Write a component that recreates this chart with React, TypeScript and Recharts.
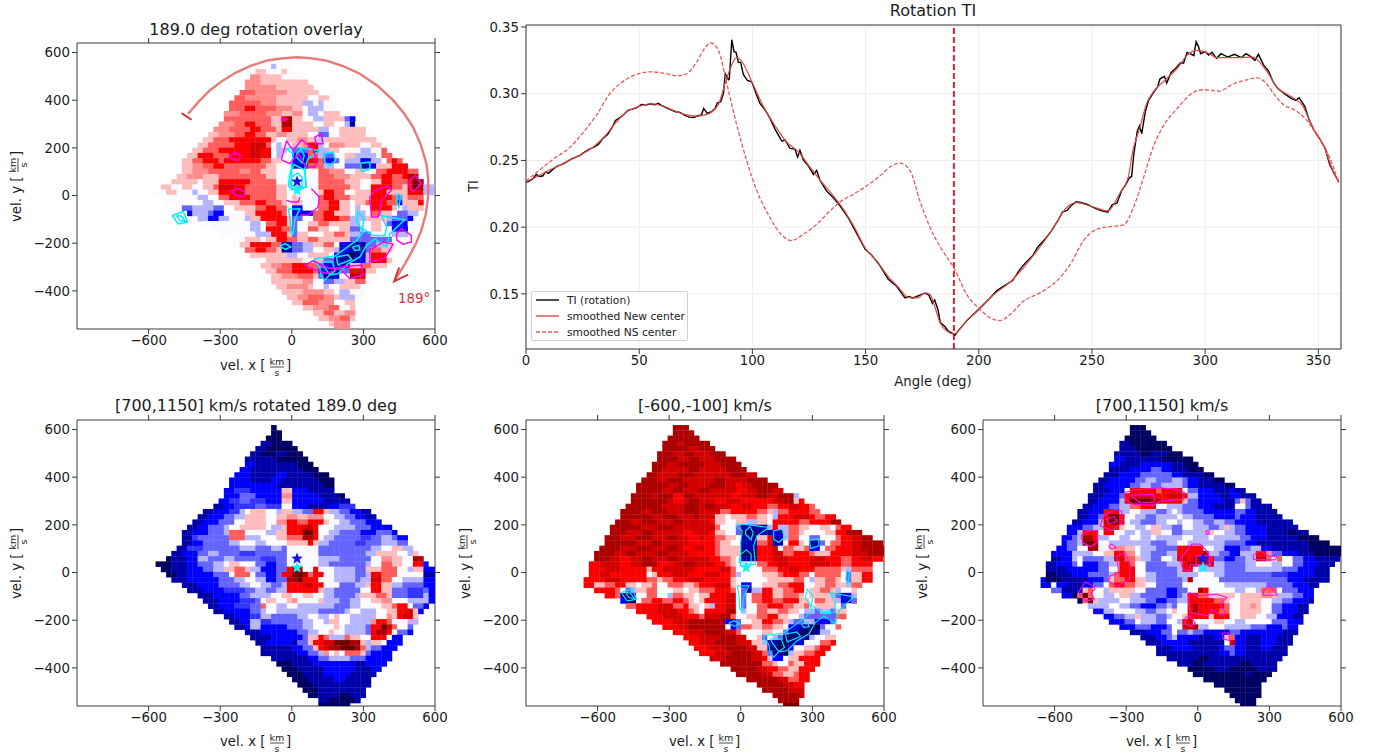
import { ScatterChart, Scatter, LineChart, Line, XAxis, YAxis, CartesianGrid, ReferenceLine, Legend } from "recharts";

const FONT = "'DejaVu Sans', sans-serif";
const INK = "#1c1c1c";
const FRAME = "#3a3a3a";
const TICK_SIZE = 13.3;

// colour levels of the maps, 0 = navy ... 5 = white ... a = maroon; b, c, d are in-between shades
const levelColors: Record<string, string> = {
  "0": "#000062", "1": "#0000aa", "2": "#0000ff", d: "#3434ff", "3": "#6464ff", "4": "#b4b4ff", "5": "#fbfbff",
  "6": "#ffbcbc", c: "#ff8c8c", "7": "#ff5c5c", "8": "#fa0000", b: "#d40000", "9": "#ac0000", a: "#700000",
};

// map rows, top to bottom: "startColumn:level ... endColumn"
const overlayRows = [
  "", "", "", "",
  "35:5 37:4 38:5 41",
  "34:6 36:5 39:6 40:5 42",
  "33:c 35:6 37:6 39:5 43",
  "32:c 35:6 38:6 41:6 44",
  "32:c 35:c 38:6 41:6 43:6 45",
  "31:7 34:c 37:c 40:6 43:6 46",
  "30:7 32:c 35:c 38:6 42:6 44:5 46:6 48",
  "29:7 31:7 35:c 38:6 41:6 43:4 45:5 46:4 47:5 49",
  "29:7 32:8 34:7 38:c 41:6 43:5 44:4 46:4 47:5 49",
  "28:c 31:7 33:7 36:c 39:6 40:6 41:c 43:5 44:4 46:5 47:6 50",
  "28:7 30:7 34:7 37:6 39:8 40:9 41:6 43:5 45:4 47:6 51:3 52:2 53",
  "27:c 30:7 32:8 34:7 37:6 39:9 41:6 43:6 45:5 47:6 49:5 51:4 52:1 53:5 54",
  "26:c 29:7 31:7 33:8 35:7 38:6 39:8 41:6 43:6 46:4 48:5 50:6 52:6 55",
  "25:6 27:c 30:7 32:8 34:7 36:6 38:c 40:6 42:6 44:5 46:3 48:5 50:6 54:6 55:5 56",
  "24:6 26:7 29:8 33:8 35:8 37:6 38:5 40:6 42:c 44:6 46:4 47:6 49:6 53:6 55:6 57",
  "23:6 25:7 28:7 30:8 33:b 36:7 37:5 38:4 39:5 41:6 43:c 44:8 46:4 47:5 48:c 51:6 54:5 56:6 58",
  "22:6 24:7 27:8 31:8 33:b 35:8 37:5 38:4 40:5 41:3 43:3 44:7 45:8 46:4 48:6 50:5 53:5 54:4 56:5 58:7 59",
  "21:6 23:8 26:7 29:8 32:8 33:b 35:8 37:5 38:4 39:5 41:2 43:2 44:7 46:4 47:3 49:5 51:6 53:4 57:5 58:7 60",
  "20:6 22:7 24:8 27:7 28:8 32:8 35:7 37:6 39:5 41:2 43:1 44:8 46:7 47:2 49:3 50:5 51:4 54:2 56:4 58:5 59:7 60:8 61:7 62",
  "20:6 22:c 24:7 26:8 28:7 31:7 34:7 36:6 38:5 40:5 41:1 43:2 44:7 46:7 47:4 49:5 51:3 53:3 54:1 56:2 57:6 60:8 63",
  "20:6 22:c 25:7 28:7 31:c 33:7 35:6 38:5 40:5 45:5 46:7 48:c 51:5 53:6 55:5 56:5 57:7 59:8 62:8 63:7 65",
  "19:6 21:c 24:6 27:7 30:7 33:7 36:6 38:5 46:7 49:c 52:6 54:6 56:7 58:8 60:7 62:8 63:9 65",
  "18:6 20:6 23:5 24:6 26:6 27:8 29:8 31:8 33:7 36:7 38:5 40:5 46:7 49:7 51:6 54:5 56:6 58:8 60:7 63:8 64:a 65:9 66",
  "16:6 18:5 20:6 22:5 24:6 26:7 27:b 30:8 32:7 35:7 38:6 40:5 46:7 49:7 52:6 54:5 56:8 60:7 62:6 63:8 64:a 65:9 66:4 68",
  "15:5 17:6 19:5 22:4 23:5 25:6 27:8 30:b 32:7 35:7 38:6 40:5 46:6 47:8 49:7 51:5 53:6 56:8 59:6 61:6 63:8 66:4 68",
  "16:5 18:5 20:5 22:5 23:4 25:5 27:7 29:8 32:8 33:7 36:7 38:6 40:5 41:6 42:5 46:7 47:8 49:7 52:6 54:6 56:8 59:8 60:7 61:3 62:6 63:7 66",
  "17:5 19:5 21:5 23:5 24:4 26:5 28:6 31:7 34:8 36:7 39:6 40:5 41:6 43:5 45:5 46:7 48:8 50:6 52:5 53:6 55:7 56:8 59:7 61:2 62:6 65:8 66",
  "20:3 22:4 24:4 26:3 28:5 30:6 32:6 34:7 36:8 38:7 40:5 41:2 43:5 44:5 46:7 48:8 50:6 52:5 53:4 54:5 56:8 58:8 60:6 61:5 62:4 63:6 66",
  "21:2 22:4 25:3 26:2 28:5 30:5 32:6 34:8 37:8 39:7 40:5 41:2 43:2 45:7 47:8 49:6 52:5 53:4 55:5 56:7 58:6 60:5 61:3 63:4 65",
  "23:4 25:2 27:4 29:5 31:5 32:4 33:6 35:8 38:8 40:6 41:3 43:5 45:7 47:8 50:7 52:4 53:4 55:6 57:6 59:4 60:3 63:2 64",
  "24:5 27:5 29:5 31:5 33:4 35:5 36:7 38:8 40:6 41:3 42:5 44:6 46:7 48:6 50:6 52:4 54:5 56:6 58:5 59:3 60:2 63:5 65",
  "26:5 29:5 31:5 33:4 35:5 36:8 39:7 41:3 42:5 44:7 46:6 48:5 50:6 52:3 54:5 56:6 58:5 60:2 63",
  "27:5 30:5 32:5 34:4 36:4 37:8 40:6 41:3 42:6 44:5 47:6 49:7 51:6 52:4 54:3 56:5 58:5 60:4 63",
  "30:5 32:6 35:5 36:6 38:8 40:7 42:6 44:7 46:6 48:6 50:6 52:3 55:3 58:3 60:5 61",
  "31:6 33:8 35:8 37:7 39:1 41:3 43:4 45:6 47:7 49:5 50:2 52:1 55:3 57:4 59:6 60",
  "32:7 34:8 36:7 38:6 39:1 41:3 43:4 45:5 47:6 49:4 50:2 52:1 55:3 56:7 58:6 60",
  "33:6 35:6 38:6 40:4 42:5 44:6 46:6 48:5 49:2 51:0 53:1 55:4 56:8 59:5 60",
  "34:5 36:6 38:6 40:6 43:5 45:6 47:3 49:1 51:1 53:2 55:4 56:8 59:6 60",
  "35:6 37:c 39:7 41:8 44:7 46:3 47:2 49:1 51:2 52:6 54:7 56:6 58:6 59",
  "36:6 38:7 41:8 43:8 45:7 46:2 48:1 50:3 52:8 54:9 55:6 57:5 59",
  "37:6 39:c 42:7 45:6 46:3 47:1 49:2 50:5 52:9 54:8 55:5 58",
  "37:6 40:6 43:c 45:5 47:3 49:4 51:6 53:7 55:5 57",
  "38:6 40:c 42:c 44:6 45:5 47:4 48:5 50:6 52:6 54:5 56",
  "39:6 41:6 43:c 45:c 47:6 49:5 50:4 52:5 55",
  "40:6 42:c 44:7 47:c 49:6 50:4 52:4 53:5 55",
  "41:6 43:7 46:c 49:5 51:6 53:5 54",
  "43:6 45:c 48:7 50:5 52:6 53",
  "45:6 47:7 49:6 51:c 53",
  "46:6 48:c 50:7 52:6 53",
  "48:6 49:c 52",
  "49:c 52",
];

const rotatedRows = [
  "",
  "37:0 38",
  "37:0 39",
  "36:0 39",
  "35:1 37:0 41",
  "34:1 36:0 42",
  "33:1 35:0 38:1 40:0 43",
  "32:1 35:1 38:0 44",
  "32:2 34:1 38:1 42:0 45",
  "31:2 33:1 40:1 43:0 46",
  "30:2 33:1 38:2 40:1 45:0 48",
  "29:2 33:1 37:2 39:1 44:1 46:0 49",
  "29:2 36:2 38:1 43:1 47:0 49",
  "28:2 30:d 33:2 39:6 41:2 44:1 49",
  "28:2 31:3 34:2 39:c 41:2 46:1 50:0 51",
  "27:2 29:d 31:3 33:d 36:2 39:6 41:2 47:1 52",
  "26:1 28:2 30:d 34:3 36:d 39:5 41:2 44:1 48:2 50:d 53",
  "24:1 26:2 29:d 31:4 32:5 33:6 36:5 38:4 39:6 41:4 43:3 45:8 47:6 48:4 50:3 52:2 54:1 56",
  "23:1 25:2 28:3 30:4 32:6 36:5 38:6 40:c 42:6 44:c 47:5 49:4 51:3 53:2 55:1 57",
  "22:1 24:2 27:3 30:5 32:6 36:5 38:c 40:8 42:7 44:8 45:8 47:6 48:5 50:4 52:3 55:2 58",
  "21:1 23:2 25:3 28:4 29:5 31:6 36:5 37:4 39:6 40:8 43:b 45:8 46:5 49:4 51:4 53:3 56:2 60",
  "20:1 22:2 25:3 28:4 29:7 32:5 34:5 36:4 38:6 40:8 42:8 43:a 45:8 46:5 48:4 50:3 54:2 57:3 60:2 61",
  "20:1 22:d 23:3 26:3 29:7 31:7 32:4 35:5 37:5 38:6 40:7 43:9 45:8 46:5 47:4 49:3 54:d 56:3 58:4 60:3 61:2 63",
  "20:1 22:2 24:3 29:4 31:5 34:4 36:5 38:5 40:6 44:8 45:6 46:4 48:3 53:d 55:3 58:4 61:3 63",
  "19:1 21:d 24:3 28:3 31:4 34:3 37:4 39:3 40:5 46:3 50:3 54:3 56:4 58:5 60:6 62:4 64",
  "18:1 20:2 23:3 25:4 27:3 31:d 34:3 37:3 40:5 46:3 52:3 55:4 57:6 59:6 61:5 63:4 64:6 65",
  "17:0 18:1 21:2 23:4 25:3 28:4 30:3 35:d 38:3 40:5 46:4 50:3 54:3 56:5 58:c 60:6 62:5 64:9 66",
  "15:0 18:1 21:2 23:3 26:4 28:5 29:6 31:5 34:3 36:2 38:3 40:5 46:4 48:3 52:3 55:4 56:5 58:7 60:6 62:5 64:8 66:2 67:5 68",
  "16:0 18:1 21:2 24:3 26:4 28:6 30:7 32:6 33:4 35:2 38:3 40:8 41:9 43:5 45:8 46:5 49:4 53:3 55:6 56:6 58:7 61:5 63:4 64:6 66:2 69",
  "17:0 19:1 21:2 26:3 29:5 30:7 32:7 33:5 34:3 36:2 38:3 39:8 41:a 43:9 44:7 45:8 47:5 49:4 53:3 55:4 56:8 58:7 61:5 64:5 66:1 69",
  "18:1 21:2 27:3 30:4 32:5 34:4 36:2 38:3 40:9 42:a 43:8 46:5 49:4 53:3 54:4 56:b 58:7 60:5 62:4 65:4 66:2 69",
  "20:1 23:2 27:3 31:4 33:5 35:4 37:3 39:4 40:8 43:b 45:8 47:5 50:3 53:4 55:6 56:8 58:6 60:4 62:3 66:2 69",
  "21:1 24:2 28:d 32:3 34:4 36:3 38:4 40:8 44:8 46:6 47:4 49:3 52:3 54:5 56:8 58:6 60:3 63:d 66:3 67:2 69",
  "23:1 26:2 31:3 33:4 35:4 37:5 39:6 41:5 43:6 45:5 47:4 49:3 53:4 54:6 57:7 59:6 60:3 63:d 66:4 67:2 69",
  "24:1 27:2 31:d 34:3 35:5 36:6 38:5 40:6 41:c 42:5 44:5 46:6 47:4 50:3 52:4 54:5 56:6 58:c 60:5 63:4 66:4 67:2 69",
  "25:1 27:2 30:d 33:3 35:7 36:5 38:4 40:5 42:4 44:4 47:4 49:3 52:4 54:5 56:5 58:6 60:7 61:8 63:5 64:3 66:2 67",
  "26:1 28:2 33:3 35:4 36:5 38:4 44:4 46:3 49:3 51:4 52:5 54:4 57:5 59:6 61:8 63:b 64:6 65:2 66",
  "28:1 30:2 33:d 35:4 37:3 40:3 42:4 44:5 46:4 48:5 49:6 50:5 52:4 55:4 57:5 59:c 60:6 61:8 62:b 64:6 65",
  "29:1 31:2 33:4 35:d 37:3 40:3 43:4 45:5 47:4 48:6 50:5 52:4 54:4 56:c 57:8 59:7 60:5 61:5 63:4 65",
  "30:1 32:2 33:4 35:2 37:2 40:3 43:4 45:5 48:5 49:6 50:5 51:4 55:3 56:8 58:a 59:b 60:7 61:5 63:3 64",
  "32:1 35:2 40:2 42:3 44:4 46:5 48:6 49:5 51:4 55:3 56:8 57:9 59:8 60:5 61:3 63:2 64",
  "33:1 37:2 41:2 43:3 44:6 46:8 47:7 48:4 50:4 51:7 52:6 54:5 56:8 58:8 59:5 60:2 62",
  "34:1 36:2 41:1 42:3 44:6 45:8 47:b 49:a 52:9 54:6 55:4 56:6 58:5 59:2 62",
  "35:1 40:1 41:2 43:3 45:6 46:8 47:b 48:9 50:a 52:a 53:9 54:7 55:4 56:3 58:2 61",
  "35:1 40:1 42:2 44:3 46:4 47:c 48:5 49:6 50:5 51:7 54:6 55:3 56:2 60",
  "37:1 42:1 44:2 46:3 48:4 50:4 52:3 55:2 57:2 60",
  "38:0 41:1 45:2 48:2 50:2 53:1 55:2 57:2 59",
  "39:0 42:1 47:2 50:2 53:1 56:2 58",
  "40:0 43:1 47:2 49:2 52:1 57",
  "41:0 44:1 49:2 51:1 56",
  "42:0 45:1 56",
  "43:0 46:1 55",
  "44:0 46:1 50:0 52:1 55",
  "46:1 48:0 53:1 54",
  "46:0 52",
];

const lowVelocityRows = [
  "",
  "28:9 31",
  "28:9 32",
  "27:9 33",
  "26:9 29:b 30:9 35",
  "26:9 31:b 33:9 36",
  "25:9 28:b 30:9 32:b 35:9 38",
  "25:9 29:b 31:9 33:b 36:9 40",
  "24:9 27:b 29:9 34:b 37:9 41",
  "24:9 26:b 29:b 31:9 33:b 35:b 38:9 42",
  "23:9 25:b 27:b 29:9 32:b 36:b 39:9 42:b 44",
  "22:9 25:b 27:9 30:b 33:b 36:9 38:b 42:9 46",
  "21:9 24:9 27:b 29:9 31:b 35:9 38:b 40:8 41:b 43:9 48",
  "21:9 26:b 28:9 30:b 33:9 35:b 38:b 40:8 42:b 44:9 47:b 49",
  "20:9 24:b 25:9 28:8 29:8 30:9 32:b 35:b 39:8 41:b 44:9 46:b 48:9 51:4 52",
  "20:9 23:9 27:b 28:8 30:b 31:9 33:b 36:8 38:b 41:8 43:8 47:b 49:9 51:6 52:8 53",
  "19:9 22:9 26:b 30:9 33:b 34:9 36:b 39:8 41:b 43:8 46:7 48:8 50:b 52:8 54:7 55",
  "18:9 22:b 24:9 27:b 30:9 33:b 35:b 37:7 39:8 42:8 44:7 46:6 47:4 48:7 50:8 54:7 56",
  "18:9 21:9 24:b 26:9 29:b 32:9 33:b 36:6 38:5 39:6 42:7 44:6 46:5 47:4 48:8 51:b 54:8 55:7 57:8 59",
  "17:9 20:b 22:9 25:b 28:9 30:b 33:b 35:8 36:6 38:5 40:6 42:4 44:6 46:5 47:8 50:8 52:7 54:8 56:8 58:9 60",
  "16:9 19:9 22:b 25:9 28:b 30:b 33:b 36:7 37:5 39:5 40:3 41:1 46:4 47:8 48:4 50:7 52:6 54:5 56:6 58:5 59:7 60:8 62",
  "16:9 19:b 22:9 24:b 28:b 30:8 32:b 35:8 36:6 38:5 40:3 41:0 44:1 46:1 47:2 48:1 49:4 50:7 52:6 53:5 57:6 59:8 61:9 64",
  "15:9 18:b 21:9 24:b 27:9 29:b 31:8 33:b 34:8 36:7 38:6 40:5 41:1 44:6 46:8 47:1 49:4 50:7 52:5 54:3 56:5 59:7 60:8 62:b 64:9 66",
  "15:9 18:9 21:b 24:9 26:b 29:b 31:8 34:8 36:7 37:6 39:5 41:1 44:7 46:8 47:1 49:5 50:8 52:6 53:5 54:1 56:3 57:5 58:7 60:8 62:b 64:9 68",
  "14:9 18:b 21:9 24:b 27:9 29:b 30:8 32:b 34:8 36:7 37:6 39:6 41:1 44:8 47:b 48:5 49:7 51:6 53:7 54:2 56:5 57:7 59:8 62:b 64:9 69",
  "13:9 17:b 19:9 21:b 25:9 27:b 29:b 31:8 33:8 36:7 37:6 39:6 41:0 44:8 47:b 49:7 51:8 54:7 55:6 58:8 62:b 65:9 69",
  "13:9 16:b 18:8 20:b 22:9 24:b 27:9 29:b 33:b 35:8 37:7 39:6 40:5 41:1 43:1 44:8 47:b 50:8 54:b 57:8 60:7 62:8 64:b 66:8 68",
  "12:8 14:b 18:8 20:b 22:9 25:8 28:b 30:9 32:b 34:b 36:8 38:7 39:6 40:5 44:7 46:8 48:b 50:8 54:b 58:8 60:7 62:8 66",
  "12:8 15:b 18:8 20:8 23:6 24:8 26:b 30:b 32:8 34:8 37:b 39:7 40:5 45:7 47:7 48:8 50:b 52:8 55:7 58:7 60:6 61:4 62:7 66",
  "12:8 14:b 16:8 19:8 23:5 24:6 25:8 28:b 31:8 34:b 37:8 39:7 40:4 41:5 45:6 48:7 49:8 52:7 54:5 55:7 58:7 60:5 61:3 62:6 64:8 66",
  "11:8 12:8 15:b 18:8 21:8 23:7 25:6 26:7 28:8 31:b 34:8 36:8 39:6 40:5 46:6 49:6 51:7 53:5 54:4 55:6 57:7 59:6 60:5 61:3 62:6 64:8 66",
  "11:8 13:6 15:7 17:8 19:6 21:5 22:6 24:7 25:5 27:7 28:7 30:6 32:7 33:8 36:b 39:6 40:5 41:2 43:5 45:6 48:7 50:8 53:5 54:5 55:6 57:7 59:6 60:6 61:4 62:7 64",
  "13:8 15:8 17:7 18:5 19:3 20:4 21:6 23:7 25:5 27:5 28:6 30:5 31:6 33:7 36:8 39:7 40:5 41:3 42:1 43:4 45:8 47:6 49:7 51:8 53:5 54:6 56:7 58:6 59:4 60:5 62:6 63",
  "15:8 17:7 18:1 19:0 20:2 21:5 23:7 25:5 27:4 28:7 30:6 32:5 33:6 35:8 38:b 40:5 41:3 42:5 43:7 45:8 47:6 49:7 52:6 53:5 54:6 56:6 58:4 59:3 60:2 62:4 63",
  "18:2 19:0 21:5 22:7 24:8 26:7 28:8 30:7 31:6 32:5 33:6 34:8 38:b 40:5 41:3 42:5 43:7 45:8 47:7 49:8 52:6 54:5 55:7 57:6 59:4 60:2 61:1 62:3 63",
  "19:7 21:8 25:b 28:7 30:8 31:6 33:5 34:6 35:4 36:8 38:b 40:5 41:3 42:5 44:7 46:8 49:7 51:6 53:7 54:5 55:6 57:6 59:5 60:3 61:5 62",
  "21:8 25:b 29:8 31:7 32:6 33:5 34:8 38:9 40:5 41:4 42:5 44:7 46:6 48:7 50:6 52:5 53:4 55:3 56:4 58:3 59:6 61",
  "23:8 26:b 30:8 33:7 34:b 37:9 39:7 40:5 42:6 44:7 46:8 48:6 50:5 52:4 53:3 55:3 58:3 59:7 61",
  "24:8 28:b 31:9 35:9 38:2 40:3 41:5 43:6 45:8 47:7 49:6 50:4 51:3 53:4 55:2 58:3 59:5 60",
  "26:8 29:b 31:9 36:9 38:5 39:2 40:3 41:7 43:6 45:7 47:6 49:5 50:2 52:1 54:0 56:3 57:5 59:7 60",
  "28:8 31:b 34:9 38:b 40:7 41:5 43:5 45:6 47:5 49:3 50:1 52:0 55:1 56:4 58:5 60",
  "30:8 33:b 37:9 40:b 42:5 44:6 45:3 46:5 47:4 48:3 49:0 52:1 54:4 55:5 57:6 59",
  "31:8 33:b 36:9 40:b 43:6 45:4 46:1 48:0 50:1 52:2 53:5 55:5 56:7 58:8 59",
  "32:8 35:b 38:9 42:b 44:6 46:1 47:0 49:0 50:2 51:5 53:6 55:7 56:8 58",
  "33:8 36:b 39:9 43:b 45:7 46:3 47:1 49:0 50:4 51:6 53:7 55:8 57",
  "35:b 38:9 41:9 43:b 45:8 46:6 47:2 49:5 50:6 52:8 55:8 56",
  "37:9 40:9 43:9 45:7 47:6 48:5 50:7 51:6 53:8 56",
  "39:9 42:9 44:b 46:8 48:7 50:6 52:8 55",
  "40:9 43:9 45:b 47:7 49:6 51:7 52:8 54",
  "42:9 44:9 46:9 48:b 50:7 52:8 54",
  "44:9 47:9 49:b 51:8 53",
  "45:9 48:9 50:b 53",
  "47:9 50:9 52:b 53",
  "48:9 52",
  "49:a 52",
];

const highVelocityRows = [
  "",
  "28:0 31",
  "28:0 32",
  "27:0 33",
  "26:1 28:0 35",
  "26:1 29:0 36",
  "25:1 27:1 30:0 32:1 35:0 38",
  "25:2 27:1 31:1 34:0 36:0 40",
  "24:2 26:1 30:2 33:2 36:1 38:0 41",
  "24:1 28:2 30:2 32:3 34:2 36:1 39:0 42",
  "23:1 26:2 30:3 33:3 36:2 38:1 42:0 44",
  "22:1 24:2 27:2 29:3 31:4 33:3 35:3 36:4 38:3 39:2 41:1 44:0 46",
  "21:1 23:2 25:2 28:3 30:4 32:3 34:4 36:4 38:3 39:2 41:1 46:0 48",
  "21:1 24:2 27:5 28:8 33:7 34:8 38:5 39:3 41:2 44:1 47:2 48:1 50",
  "20:1 23:2 26:3 27:8 28:b 32:b 33:8 35:b 38:8 39:4 41:2 45:1 47:2 49:1 52",
  "20:1 22:2 26:4 27:8 28:a 32:9 34:8 36:8 38:6 39:3 41:2 46:1 48:3 49:6 50:3 51:1 53",
  "19:1 21:2 24:3 26:4 28:7 30:8 33:5 35:4 38:3 41:2 44:1 48:5 50:3 51:1 55",
  "18:1 20:2 23:8 25:8 26:4 28:5 30:4 33:3 35:4 36:5 37:4 38:3 40:3 42:2 45:2 48:3 50:2 52:1 56",
  "18:1 20:2 22:3 23:8 24:a 26:8 27:5 29:4 31:3 33:4 36:4 37:5 38:4 40:3 42:3 44:2 48:3 49:2 52:1 55:1 57",
  "17:1 19:2 22:4 23:b 24:a 26:8 27:5 28:4 30:3 33:4 35:5 37:4 38:5 40:4 42:3 44:4 46:3 48:2 52:1 57:1 59",
  "16:2 19:3 21:4 23:8 26:6 27:5 29:4 31:5 32:6 34:4 36:3 38:5 40:4 43:3 45:4 46:6 47:4 48:3 50:2 54:1 60",
  "16:2 18:4 19:8 22:5 23:8 25:5 27:4 29:5 30:4 32:6 34:5 36:3 38:4 41:4 43:6 44:5 46:4 48:3 50:2 54:1 58:0 60:1 62",
  "15:2 17:3 18:4 19:9 21:8 22:4 24:5 26:4 28:5 30:4 32:5 33:4 36:4 38:5 40:4 43:5 44:4 46:4 49:3 51:2 54:1 60:0 64",
  "15:2 16:3 18:4 19:a 21:9 22:5 24:4 26:4 29:4 32:3 35:4 37:5 39:4 41:4 44:4 46:3 50:2 52:1 60:1 62:0 66",
  "14:2 16:3 18:5 20:9 22:5 24:6 25:c 27:6 29:5 30:4 33:3 36:3 37:8 39:8 41:8 42:5 44:4 46:2 49:3 51:4 53:2 55:1 62:0 69",
  "13:2 15:2 17:4 19:4 21:5 23:6 25:8 27:c 29:5 30:4 32:3 35:4 37:8 42:9 43:4 45:3 47:2 49:4 52:8 54:c 55:3 57:2 60:1 63:0 69",
  "13:1 15:2 17:4 18:5 19:3 21:3 23:4 25:b 27:7 29:6 30:4 32:3 34:5 36:4 37:b 39:8 40:9 43:8 44:3 46:2 48:3 50:4 52:b 54:7 55:5 56:7 57:5 59:3 61:2 63:1 68",
  "12:1 14:2 17:3 18:5 19:2 22:3 24:4 26:8 28:7 29:5 31:3 35:4 38:8 39:9 43:9 44:4 46:3 48:3 50:4 52:5 55:4 57:5 59:3 61:2 64:1 67",
  "12:1 14:1 16:2 19:2 22:3 24:5 26:8 28:8 29:5 31:3 34:3 37:4 38:8 40:5 41:4 44:4 46:3 50:4 52:4 55:4 57:3 60:2 63:1 66",
  "12:0 14:1 17:2 20:3 24:4 25:7 26:8 28:8 29:5 31:4 33:3 35:3 37:4 39:4 41:5 44:4 46:3 49:3 52:3 55:d 58:2 60:2 63:1 66",
  "11:2 12:0 15:1 18:1 20:2 23:3 24:6 25:7 27:8 29:6 31:4 33:3 36:3 38:4 39:9 40:5 44:5 45:3 49:3 51:3 53:3 55:3 58:2 61:1 64:1 66",
  "11:2 13:5 14:2 16:1 19:2 21:3 23:5 24:7 25:8 27:7 29:6 31:5 33:3 36:3 38:5 41:5 44:5 46:4 49:4 51:4 54:3 56:3 59:2 62:1 64",
  "13:3 15:1 17:1 19:6 20:7 21:5 23:4 24:6 27:6 29:5 31:3 33:3 35:2 37:3 39:5 41:9 42:8 43:5 46:5 48:4 50:5 52:4 53:7 56:5 57:3 60:2 63",
  "15:2 17:0 18:7 19:a 20:7 21:5 23:4 25:5 26:6 28:4 30:3 33:3 35:2 37:3 38:4 39:8 41:7 43:6 46:6 48:5 49:6 52:6 53:c 55:6 56:4 59:3 61:2 63",
  "18:0 19:7 20:a 21:6 22:4 24:4 26:5 28:4 31:3 33:2 35:3 37:4 39:8 40:8 42:8 44:7 46:6 47:5 49:6 53:5 55:4 57:3 59:2 62:1 63",
  "19:5 20:4 22:4 24:5 26:4 28:3 30:2 33:3 35:4 36:3 37:5 39:8 40:9 41:8 44:8 46:7 47:5 49:6 51:c 52:6 53:5 55:3 57:2 60:1 62",
  "21:2 23:4 25:5 27:5 29:4 31:3 33:4 35:5 36:6 37:5 38:5 39:8 40:9 41:8 45:7 47:5 49:6 53:5 55:3 57:2 60:1 62",
  "23:2 25:3 27:4 29:6 30:4 33:3 35:4 36:5 38:6 39:8 42:8 43:6 44:8 46:8 47:5 49:6 52:5 54:4 56:2 59:1 61",
  "24:2 27:3 29:5 30:4 33:3 35:5 37:4 38:8 39:b 40:5 42:5 44:6 46:5 48:4 50:5 53:5 55:3 57:3 58:2 61",
  "26:2 29:3 32:2 35:3 36:5 38:b 40:9 41:4 43:5 46:4 48:4 51:3 54:2 57:3 58:2 60",
  "28:1 31:2 34:3 36:5 37:3 39:4 40:3 42:2 45:2 47:3 49:2 52:2 54:2 57:1 60",
  "30:1 33:2 35:3 36:4 37:2 39:2 41:1 44:2 46:6 47:7 48:2 50:1 53:2 56:1 59",
  "31:1 34:2 37:2 39:1 42:1 44:1 46:5 47:b 48:2 50:1 53:2 56:1 59",
  "33:1 36:2 38:2 40:1 42:1 45:2 46:3 48:2 50:1 53:2 55:1 58",
  "33:1 36:1 40:1 43:1 45:2 47:3 48:2 50:1 58",
  "35:1 38:1 41:0 43:1 47:1 50:1 57",
  "37:1 40:0 42:1 44:1 49:0 51:1 56",
  "39:0 42:0 44:1 47:0 52:1 56",
  "40:0 44:0 47:0 50:1 51:0 55",
  "42:0 44:0 46:0 54",
  "44:0 53",
  "46:0 53",
  "47:0 53",
  "48:0 52",
  "49:0 52",
];

// contours in km/s
const cyanContours = [
  [[-22, 196], [13, 203], [117, 189], [68, 154], [54, 112], [61, 35], [-1, 28], [-1, 126], [6, 175], [-22, 196]],
  [[20, 175], [38, 193], [52, 168], [43, 137], [20, 161], [20, 175]],
  [[-8, 42], [-1, 77], [24, 95], [43, 77], [43, 35], [-8, 42]],
  [[138, 175], [173, 182], [183, 147], [159, 126], [138, 140], [138, 175]],
  [[288, 137], [327, 140], [327, 112], [292, 101], [288, 137]],
  [[443, 7], [457, 0], [448, -49], [440, -28], [443, 7]],
  [[-15, -56], [34, -56], [13, -98], [6, -161], [-4, -154], [-8, -92], [-15, -56]],
  [[-501, -84], [-455, -67], [-437, -112], [-476, -119], [-501, -84]],
  [[-483, -84], [-462, -87], [-446, -109], [-469, -105], [-483, -84]],
  [[-50, -212], [-27, -202], [-4, -216], [-27, -226], [-50, -212]],
  [[96, -265], [180, -254], [271, -189], [299, -154], [271, -105], [278, -70], [303, -98], [295, -137], [341, -168], [390, -168], [397, -133], [376, -84], [411, -91], [473, -102], [411, -161], [397, -216], [348, -182], [313, -209], [285, -258], [236, -286], [194, -328], [159, -332], [138, -356], [122, -335], [117, -300], [96, -279], [96, -265]],
  [[124, -279], [169, -279], [183, -314], [159, -332], [131, -293], [124, -279]],
  [[187, -258], [236, -249], [250, -268], [194, -291], [187, -258]],
  [[254, -216], [281, -209], [285, -228], [264, -230], [254, -216]],
];
const overlayCyanExtra = [
  [[-15, 43], [-6, 99], [10, 130], [55, 106], [59, 36], [35, 25], [0, 25], [-15, 43]],
];
const overlayMagenta = [
  [[-260, 168], [-232, 180], [-215, 166], [-225, 147], [-253, 154], [-260, 168]],
  [[-253, 19], [-225, 29], [-197, 15], [-200, -6], [-232, 1], [-253, 19]],
  [[-43, 326], [-22, 319], [-43, 315], [-43, 326]],
  [[-43, 154], [-22, 228], [6, 189], [41, 234], [89, 196], [103, 147], [97, 120], [61, 120], [27, 175], [-8, 134], [-39, 147], [-43, 154]],
  [[96, 245], [124, 259], [131, 217], [103, 217], [96, 245]],
  [[82, 29], [115, -6], [110, -49], [68, -83], [34, -83]],
  [[-22, -20], [-1, -27], [27, -27], [34, -6]],
  [[327, -6], [348, 22], [404, 40], [418, 22], [376, -20], [362, -90], [334, -90], [327, -6]],
  [[494, 64], [520, 85], [543, 50], [508, 15], [494, 36], [494, 64]],
  [[439, -160], [459, -139], [501, -167], [501, -195], [466, -204], [441, -188], [439, -160]],
  [[327, -230], [383, -195], [425, -204], [390, -264], [327, -278], [327, -230]],
  [[54, -292], [89, -274], [159, -306], [292, -292], [299, -334], [243, -348], [201, -306], [145, -327], [103, -313], [54, -292]],
];
const highMagenta = [
  [[-309, 335], [-270, 346], [-158, 356], [-88, 349], [-56, 335], [-60, 307], [-158, 300], [-186, 282], [-270, 286], [-304, 307], [-309, 335]],
  [[-283, 324], [-186, 328], [-182, 296], [-242, 293], [-283, 324]],
  [[-395, 237], [-346, 265], [-318, 258], [-318, 209], [-360, 175], [-409, 196], [-395, 237]],
  [[-381, 226], [-351, 235], [-337, 216], [-374, 202], [-381, 226]],
  [[-490, 154], [-465, 177], [-423, 175], [-420, 126], [-451, 109], [-482, 126], [-490, 154]],
  [[-339, 70], [-304, 81], [-283, 28], [-286, -28], [-339, -59], [-374, -35], [-367, -14], [-332, 0], [-339, 70]],
  [[-472, -39], [-440, -56], [-430, -70], [-447, -84], [-433, -112], [-472, -119], [-500, -84], [-472, -39]],
  [[-74, 56], [-25, 119], [10, 119], [31, 98], [59, 56], [52, 28], [3, 28], [-32, 35], [-32, 7], [-63, 14], [-74, 56]],
  [[-7, 70], [49, 70], [49, 35], [-7, 35], [-7, 70]],
  [[-35, -84], [-4, -98], [80, -91], [122, -105], [94, -133], [115, -168], [101, -184], [59, -154], [45, -182], [-32, -168], [-39, -126], [-35, -84]],
  [[-53, -189], [-32, -182], [-11, -212], [-32, -226], [-53, -216], [-53, -189]],
  [[233, 73], [261, 91], [296, 70], [331, 66], [324, 53], [268, 53], [233, 56], [233, 73]],
  [[275, -77], [296, -56], [324, -77], [331, -95], [275, -95], [275, -77]],
  [[101, -254], [128, -254], [135, -286], [108, -279], [101, -254]],
  [[35, 175], [47, 175], [47, 161], [35, 161], [35, 175]],
  [[-374, 109], [-360, 119], [-342, 105], [-360, 98], [-374, 109]],
];

const rotationArc = [
  [432, -355], [466, -300], [494, -251], [522, -197], [543, -146], [562, -76], [571, -6], [572, 66], [564, 134],
  [540, 215], [508, 287], [470, 345], [425, 399], [360, 460], [285, 511], [215, 543], [145, 566], [82, 576],
  [20, 580], [-45, 575], [-106, 566], [-170, 545], [-232, 517], [-290, 482], [-344, 441], [-392, 392], [-434, 343],
];
const arcHead = [[450, -302], [429, -360], [487, -332]];
const arcTail = [[-462, 346], [-420, 318]];

const blueStar = [{ x: 22, y: 58 }];
const cyanStar = [{ x: 22, y: 21 }];

const velXTicks = [-600, -300, 0, 300, 600];
const velYTicks = [-400, -200, 0, 200, 400, 600];
const angleTicks = [0, 50, 100, 150, 200, 250, 300, 350];
const tiTicks = [0.15, 0.2, 0.25, 0.3, 0.35];

const tiAngles = [0, 1.5, 3, 4.5, 6, 7.5, 8.5, 10, 12, 14, 16, 18, 20, 22, 24, 26, 28, 30, 32, 34, 36, 38, 39.5, 41, 43, 45, 47, 49, 51, 53, 55, 57, 58.5, 60, 62, 64, 66, 68, 70, 72, 74, 76, 77.5, 78.5, 80, 82, 83.5, 84.5, 86, 87.2, 88, 89.4, 89.8, 90.9, 91.9, 92.8, 93.8, 94.8, 96, 97.8, 99.7, 102, 103.4, 105.6, 107.8, 110, 113, 114.4, 116.6, 118.8, 120, 121, 122.5, 124.7, 127, 128.4, 129.9, 132.8, 135.8, 138.7, 142.4, 146, 149.8, 152.7, 156.4, 160, 163.8, 167.4, 168.9, 171, 174, 176.3, 178, 179.5, 180.5, 182, 183, 185, 186.5, 188.5, 189.5, 191, 195, 200, 205, 208, 212, 215, 218, 221, 224, 226, 229, 232, 235, 237, 239, 241, 243, 245, 248, 251, 254, 257, 259, 261, 263, 265, 266.5, 267.5, 268.5, 270, 271, 272, 273.5, 275, 277, 279, 280, 282, 283, 285, 287, 289, 290.5, 292, 294, 295, 296, 297, 298, 300, 301.5, 303, 305, 307, 310, 313, 316, 318, 320, 322, 323.5, 326, 328, 330, 332, 335, 338, 340, 341.5, 344, 346, 348, 351, 353, 355, 357, 359];
const tiValues = [0.2335, 0.2345, 0.2362, 0.2395, 0.238, 0.2385, 0.2412, 0.2405, 0.2435, 0.246, 0.247, 0.249, 0.251, 0.2525, 0.254, 0.2565, 0.2585, 0.26, 0.262, 0.2665, 0.2695, 0.2745, 0.28, 0.2815, 0.284, 0.2875, 0.2885, 0.2895, 0.292, 0.2915, 0.2925, 0.2918, 0.2928, 0.291, 0.2895, 0.288, 0.2865, 0.286, 0.284, 0.2825, 0.2822, 0.2835, 0.2842, 0.289, 0.2855, 0.2865, 0.289, 0.293, 0.294, 0.3, 0.315, 0.3105, 0.311, 0.3405, 0.3315, 0.331, 0.3235, 0.3235, 0.3145, 0.31, 0.309, 0.2985, 0.2925, 0.288, 0.2815, 0.2735, 0.2645, 0.2655, 0.259, 0.2585, 0.2525, 0.2575, 0.2505, 0.246, 0.2395, 0.2425, 0.235, 0.227, 0.222, 0.216, 0.207, 0.1955, 0.1835, 0.179, 0.171, 0.161, 0.1555, 0.147, 0.148, 0.147, 0.149, 0.1505, 0.149, 0.143, 0.1455, 0.138, 0.1285, 0.1255, 0.122, 0.1205, 0.119, 0.1225, 0.1305, 0.1385, 0.147, 0.1525, 0.157, 0.16, 0.168, 0.174, 0.179, 0.185, 0.1905, 0.197, 0.205, 0.2115, 0.2125, 0.2165, 0.219, 0.2185, 0.217, 0.2145, 0.2125, 0.2112, 0.217, 0.218, 0.227, 0.232, 0.237, 0.238, 0.255, 0.272, 0.276, 0.27, 0.286, 0.295, 0.3005, 0.305, 0.311, 0.313, 0.308, 0.316, 0.319, 0.323, 0.323, 0.331, 0.3295, 0.3285, 0.339, 0.3355, 0.33, 0.3315, 0.329, 0.331, 0.3265, 0.33, 0.3275, 0.3295, 0.327, 0.33, 0.328, 0.325, 0.3295, 0.321, 0.317, 0.309, 0.304, 0.3, 0.2965, 0.295, 0.297, 0.2905, 0.28, 0.273, 0.265, 0.259, 0.247, 0.24, 0.234];

const newCenterAngles = [0, 5, 10, 15, 20, 25, 30, 35, 40, 45, 50, 55, 60, 65, 70, 75, 80, 85, 88, 90, 93, 95, 100, 105, 110, 115, 120, 125, 130, 135, 140, 145, 150, 155, 160, 165, 168, 170, 173, 176.3, 178.5, 180, 183, 186, 189, 195, 200, 205, 215, 224, 234, 237, 243, 250, 257, 262.5, 266, 268, 271, 274, 277, 283, 287.5, 292, 296, 302, 305, 312.5, 321, 327, 331.5, 338.5, 343, 347.5, 352, 356.5, 359];
const newCenterValues = [0.234, 0.238, 0.2425, 0.2465, 0.251, 0.255, 0.2605, 0.2685, 0.279, 0.287, 0.2905, 0.2925, 0.291, 0.2875, 0.2845, 0.2832, 0.2845, 0.292, 0.308, 0.318, 0.327, 0.325, 0.308, 0.29, 0.276, 0.264, 0.257, 0.246, 0.235, 0.225, 0.214, 0.2, 0.184, 0.1745, 0.163, 0.154, 0.148, 0.147, 0.147, 0.1508, 0.1495, 0.1433, 0.128, 0.122, 0.12, 0.1307, 0.138, 0.147, 0.1608, 0.1785, 0.2022, 0.2109, 0.2184, 0.2155, 0.2122, 0.226, 0.2372, 0.257, 0.2735, 0.292, 0.3012, 0.3112, 0.3187, 0.3287, 0.3325, 0.33, 0.327, 0.327, 0.3275, 0.3175, 0.3054, 0.2974, 0.2911, 0.2748, 0.2623, 0.2422, 0.2335];

const nsCenterAngles = [0, 4.7, 12, 19.4, 25.3, 31, 37, 41.5, 47.4, 55, 60.7, 67.3, 71, 75.4, 78.3, 81.6, 85, 88.7, 93, 97.5, 102, 107.8, 112, 117.4, 122.5, 128.4, 134.3, 138.7, 144.6, 150.5, 156.4, 161.6, 165.2, 169.7, 174, 178.5, 183.6, 189, 194.7, 200.6, 205, 209.4, 213.8, 219.7, 227, 234.4, 240.4, 246.2, 252, 258, 264, 268.3, 272.8, 277, 281.6, 287.5, 295, 299.3, 306, 312.5, 318.4, 323, 326.5, 330.9, 334.6, 340.5, 345, 349, 354, 359];
const nsCenterValues = [0.2345, 0.241, 0.251, 0.2598, 0.271, 0.2836, 0.3, 0.3074, 0.3136, 0.3164, 0.3154, 0.3134, 0.315, 0.3237, 0.3325, 0.338, 0.3325, 0.3074, 0.2773, 0.2497, 0.2272, 0.2071, 0.1959, 0.19, 0.1946, 0.2021, 0.2122, 0.2189, 0.2247, 0.231, 0.2385, 0.246, 0.248, 0.2422, 0.2197, 0.1997, 0.1834, 0.1696, 0.1495, 0.1383, 0.1321, 0.13, 0.1345, 0.1445, 0.1508, 0.1596, 0.1721, 0.1897, 0.1984, 0.2004, 0.2017, 0.2147, 0.2372, 0.2598, 0.2761, 0.2886, 0.3012, 0.303, 0.302, 0.3074, 0.3104, 0.3119, 0.3086, 0.2986, 0.2918, 0.2868, 0.2798, 0.2698, 0.256, 0.2335];

const zip = (xs: number[], ys: number[]) => xs.map((x, i) => ({ x, y: ys[i] }));
const toPoints = (pairs: number[][]) => pairs.map(([x, y]) => ({ x, y }));

const CELL = 22;
const parseRows = (rows: string[]) =>
  rows.flatMap((row, r) => {
    const tokens = row.split(" ").filter(Boolean);
    const cells: { x: number; y: number; v: string }[] = [];
    tokens.forEach((tok, i) => {
      if (!tok.includes(":")) return;
      const [start, v] = tok.split(":");
      const end = parseInt(tokens[i + 1]);
      for (let c = parseInt(start); c < end; c++) {
        cells.push({ x: -900 + (c + 0.5) * CELL, y: 640 - (r + 0.5) * CELL, v });
      }
    });
    return cells;
  });

const HeatCell = (props: any) => (
  <rect x={props.cx - 2.8} y={props.cy - 2.8} width={5.6} height={5.6} fill={levelColors[props.payload.v]} />
);

const starShape = (fill: string) => (props: any) => {
  const pts = Array.from({ length: 10 }, (_, i) => {
    const r = i % 2 === 0 ? 6.2 : 2.6;
    const a = (i * Math.PI) / 5 - Math.PI / 2;
    return `${props.cx + r * Math.cos(a)},${props.cy + r * Math.sin(a)}`;
  }).join(" ");
  return <polygon points={pts} fill={fill} />;
};

const NoDot = () => <g />;
const EmptyTick = () => <g />;
const fmtVel = (v: number) => String(v).replace("-", "\u2212");
const axisAnchor = [{ x: 0, y: 0 }];

function Contours({ list, stroke, width }: { list: number[][][]; stroke: string; width: number }) {
  return list.map((c, i) => (
    <Scatter
      key={stroke + i}
      data={toPoints(c)}
      line={{ stroke, strokeWidth: width }}
      lineType="joint"
      shape={NoDot}
      isAnimationActive={false}
    />
  ));
}

function VelMap({ left, top, rows, children }: { left: number; top: number; rows: string[]; children?: any }) {
  const tickStyle = { fontSize: TICK_SIZE, fill: INK, fontFamily: FONT };
  return (
    <div style={{ position: "absolute", left: left - 50, top: top - 8 }}>
      <ScatterChart width={440} height={324} margin={{ top: 0, right: 24, bottom: 0, left: 0 }}>
        <XAxis type="number" dataKey="x" domain={[-900, 600]} ticks={velXTicks} interval={0} tickFormatter={fmtVel} height={30} tick={tickStyle} tickSize={5} stroke={FRAME} allowDataOverflow />
        <XAxis xAxisId="top" orientation="top" type="number" dataKey="x" domain={[-900, 600]} ticks={velXTicks} interval={0} tick={EmptyTick} height={8} tickSize={5} stroke={FRAME} />
        <YAxis type="number" dataKey="y" domain={[-560, 640]} ticks={velYTicks} interval={0} tickFormatter={fmtVel} width={50} tick={tickStyle} tickSize={5} stroke={FRAME} allowDataOverflow />
        <YAxis yAxisId="right" orientation="right" type="number" dataKey="y" domain={[-560, 640]} ticks={velYTicks} interval={0} tick={EmptyTick} width={8} tickSize={5} stroke={FRAME} />
        <Scatter data={parseRows(rows)} shape={HeatCell} isAnimationActive={false} />
        <Scatter data={axisAnchor} xAxisId="top" yAxisId="right" shape={NoDot} isAnimationActive={false} />
        {children}
      </ScatterChart>
    </div>
  );
}

function VelLabel({ cx, cy, axis, vertical }: { cx: number; cy: number; axis: string; vertical?: boolean }) {
  return (
    <g transform={`translate(${cx},${cy})${vertical ? " rotate(-90)" : ""}`} fontFamily={FONT} fill={INK}>
      <text x={-36} y={4} fontSize={TICK_SIZE}>{`vel. ${axis} [`}</text>
      <text x={21} y={-1} fontSize={9.5} textAnchor="middle">km</text>
      <line x1={14} x2={28} y1={1} y2={1} stroke={INK} strokeWidth={0.8} />
      <text x={21} y={10} fontSize={9.5} textAnchor="middle">s</text>
      <text x={30} y={4} fontSize={TICK_SIZE}>]</text>
    </g>
  );
}

function Title({ x, y, text }: { x: number; y: number; text: string }) {
  return <text x={x} y={y} textAnchor="middle" fontSize={16} fontFamily={FONT} fill={INK}>{text}</text>;
}

const legendItems = [
  { label: "TI (rotation)", color: "#000000", dash: undefined },
  { label: "smoothed New center", color: "#e04848", dash: undefined },
  { label: "smoothed NS center", color: "#e85a5a", dash: "4 2" },
];

const TiLegend = () => (
  <div style={{ width: 157, height: 50, border: "1px solid #d0d0d0", borderRadius: 2, background: "rgba(255,255,255,0.85)", fontFamily: FONT, fontSize: 10.7, color: INK, padding: "0 0 0 4px", boxSizing: "border-box" }}>
    {legendItems.map((it) => (
      <div key={it.label} style={{ display: "flex", alignItems: "center", height: 16 }}>
        <svg width={24} height={6} style={{ marginRight: 7 }}>
          <line x1={0} x2={23} y1={3} y2={3} stroke={it.color} strokeWidth={1.4} strokeDasharray={it.dash} />
        </svg>
        {it.label}
      </div>
    ))}
  </div>
);

function TiChart() {
  const tickStyle = { fontSize: TICK_SIZE, fill: INK, fontFamily: FONT };
  return (
    <div style={{ position: "absolute", left: 526 - 50, top: 25 - 9 }}>
      <LineChart width={866} height={363} margin={{ top: 8, right: 0, bottom: 0, left: 0 }}>
        <CartesianGrid stroke="#ececec" />
        <XAxis type="number" dataKey="x" domain={[0, 360]} ticks={angleTicks} interval={0} height={30} tick={tickStyle} tickSize={5} stroke={FRAME} />
        <XAxis xAxisId="top" orientation="top" type="number" domain={[0, 360]} tick={false} tickLine={false} height={1} stroke={FRAME} />
        <YAxis type="number" dataKey="y" domain={[0.1087, 0.3515]} ticks={tiTicks} interval={0} tickFormatter={(v: number) => v.toFixed(2)} width={50} tick={tickStyle} tickSize={5} stroke={FRAME} allowDataOverflow />
        <YAxis yAxisId="right" orientation="right" type="number" domain={[0.1087, 0.3515]} tick={false} tickLine={false} width={1} stroke={FRAME} />
        <ReferenceLine x={189} stroke="#d8232a" strokeWidth={2} strokeDasharray="6 3" />
        <Line data={zip(tiAngles, tiValues)} dataKey="y" stroke="#000000" strokeWidth={1.4} dot={false} isAnimationActive={false} />
        <Line data={zip(newCenterAngles, newCenterValues)} dataKey="y" type="monotone" stroke="#e04848" strokeWidth={1.2} dot={false} isAnimationActive={false} />
        <Line data={zip(nsCenterAngles, nsCenterValues)} dataKey="y" type="monotone" stroke="#e85a5a" strokeWidth={1.3} strokeDasharray="4 2" dot={false} isAnimationActive={false} />
        <Legend layout="vertical" align="center" verticalAlign="middle" content={<TiLegend />} wrapperStyle={{ left: 55, top: 275, width: 157 }} />
      </LineChart>
    </div>
  );
}

export default function App() {
  return (
    <div style={{ position: "absolute", left: 0, top: 0, width: 1377, height: 753, background: "#fff", overflow: "hidden" }}>
      <style>{`.recharts-scatter { filter: blur(0.6px); }`}</style>
      <VelMap left={77} top={43} rows={overlayRows}>
        {Contours({ list: [...cyanContours, ...overlayCyanExtra], stroke: "#00eeff", width: 1.5 })}
        {Contours({ list: overlayMagenta, stroke: "#ff00ee", width: 1.4 })}
        <Scatter data={toPoints(rotationArc)} line={{ stroke: "#e87a7a", strokeWidth: 2.4 }} lineType="joint" shape={NoDot} isAnimationActive={false} />
        <Scatter data={toPoints(arcHead)} line={{ stroke: "#cc3338", strokeWidth: 2 }} lineType="joint" shape={NoDot} isAnimationActive={false} />
        <Scatter data={toPoints(arcTail)} line={{ stroke: "#cc3338", strokeWidth: 2 }} lineType="joint" shape={NoDot} isAnimationActive={false} />
        <Scatter data={blueStar} shape={starShape("#1414e6")} isAnimationActive={false} />
        <Scatter data={cyanStar} shape={starShape("#19f0f0")} isAnimationActive={false} />
      </VelMap>
      <VelMap left={77} top={420} rows={rotatedRows}>
        <Scatter data={blueStar} shape={starShape("#1414e6")} isAnimationActive={false} />
        <Scatter data={cyanStar} shape={starShape("#19f0f0")} isAnimationActive={false} />
      </VelMap>
      <VelMap left={526} top={420} rows={lowVelocityRows}>
        {Contours({ list: cyanContours, stroke: "#00eeff", width: 1.1 })}
        <Scatter data={cyanStar} shape={starShape("#19f0f0")} isAnimationActive={false} />
      </VelMap>
      <VelMap left={983} top={420} rows={highVelocityRows}>
        {Contours({ list: highMagenta, stroke: "#ff10e0", width: 1.1 })}
        <Scatter data={blueStar} shape={starShape("#1414e6")} isAnimationActive={false} />
        <Scatter data={cyanStar} shape={starShape("#19f0f0")} isAnimationActive={false} />
      </VelMap>
      <TiChart />
      <svg width={1377} height={753} style={{ position: "absolute", left: 0, top: 0, pointerEvents: "none" }}>
        <Title x={256} y={35} text="189.0 deg rotation overlay" />
        <Title x={933} y={16} text="Rotation TI" />
        <Title x={256} y={411} text="[700,1150] km/s rotated 189.0 deg" />
        <Title x={705} y={411} text="[-600,-100] km/s" />
        <Title x={1162} y={411} text="[700,1150] km/s" />
        <VelLabel cx={256} cy={366} axis="x" />
        <VelLabel cx={256} cy={742} axis="x" />
        <VelLabel cx={705} cy={742} axis="x" />
        <VelLabel cx={1162} cy={742} axis="x" />
        <VelLabel cx={17} cy={186} axis="y" vertical />
        <VelLabel cx={17} cy={563} axis="y" vertical />
        <VelLabel cx={466} cy={563} axis="y" vertical />
        <VelLabel cx={923} cy={563} axis="y" vertical />
        <text x={933} y={386} textAnchor="middle" fontSize={TICK_SIZE} fontFamily={FONT} fill={INK}>Angle (deg)</text>
        <text transform="translate(478,186) rotate(-90)" textAnchor="middle" fontSize={TICK_SIZE} fontFamily={FONT} fill={INK}>TI</text>
        <text x={398} y={303} fontSize={TICK_SIZE} fontFamily={FONT} fill="#d8323a">189°</text>
      </svg>
    </div>
  );
}
